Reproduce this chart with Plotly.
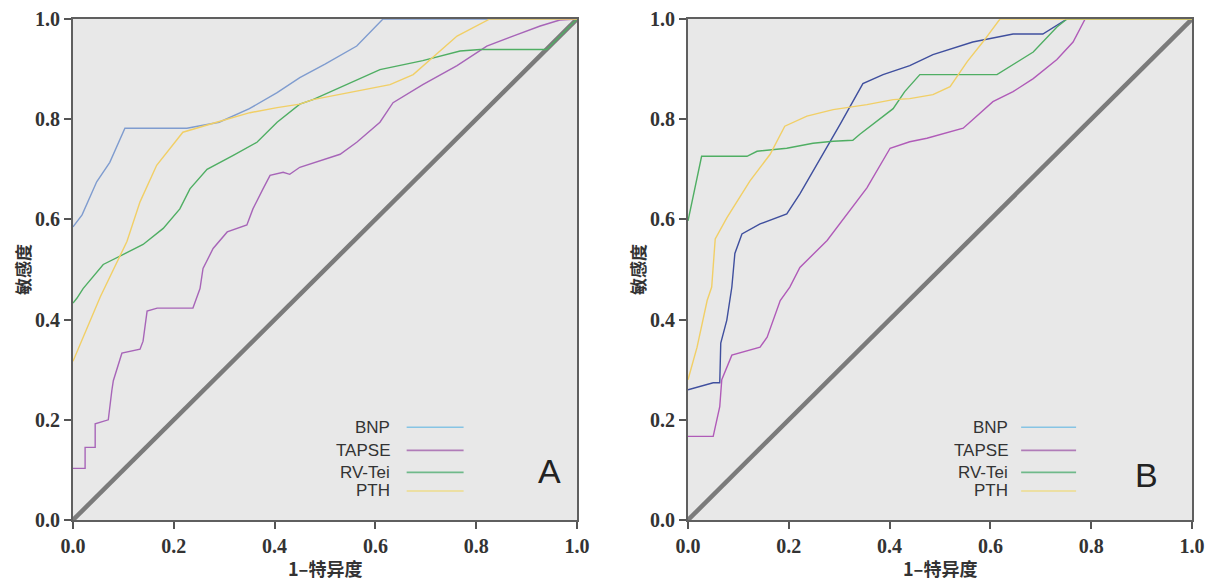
import plotly.graph_objects as go

# ---------------- Data ----------------
# Panel A
A_BNP_x = [0.0, 0.018, 0.047, 0.073, 0.103, 0.226, 0.29, 0.35, 0.405, 0.45, 0.5, 0.563, 0.615, 1.0]
A_BNP_y = [0.585, 0.609, 0.675, 0.714, 0.782, 0.782, 0.794, 0.821, 0.853, 0.883, 0.91, 0.946, 1.0, 1.0]

A_TAPSE_x = [0.0, 0.024, 0.024, 0.044, 0.044, 0.07, 0.077, 0.08, 0.097, 0.133, 0.139, 0.147, 0.167,
             0.238, 0.252, 0.258, 0.278, 0.306, 0.345, 0.357, 0.377, 0.391, 0.417, 0.43, 0.45, 0.53,
             0.563, 0.609, 0.635, 0.694, 0.762, 0.821, 0.873, 0.927, 0.966, 1.0]
A_TAPSE_y = [0.103, 0.103, 0.145, 0.145, 0.192, 0.2, 0.258, 0.278, 0.333, 0.341, 0.357, 0.417, 0.423,
             0.423, 0.462, 0.502, 0.542, 0.575, 0.589, 0.621, 0.661, 0.688, 0.694, 0.69, 0.704, 0.73,
             0.754, 0.794, 0.833, 0.869, 0.907, 0.946, 0.966, 0.986, 0.998, 1.0]

A_RVTEI_x = [0.0, 0.008, 0.02, 0.06, 0.1, 0.139, 0.179, 0.212, 0.232, 0.266, 0.318, 0.365, 0.405,
             0.45, 0.476, 0.543, 0.609, 0.694, 0.768, 0.808, 0.94, 1.0]
A_RVTEI_y = [0.433, 0.443, 0.462, 0.51, 0.53, 0.55, 0.582, 0.621, 0.661, 0.70, 0.728, 0.754, 0.794,
             0.83, 0.839, 0.869, 0.899, 0.917, 0.936, 0.939, 0.939, 1.0]

A_PTH_x = [0.0, 0.054, 0.107, 0.133, 0.166, 0.218, 0.285, 0.351, 0.405, 0.45, 0.476, 0.629, 0.675,
           0.714, 0.762, 0.827, 1.0]
A_PTH_y = [0.317, 0.445, 0.556, 0.635, 0.708, 0.774, 0.794, 0.813, 0.823, 0.83, 0.839, 0.869, 0.889,
           0.923, 0.966, 1.0, 1.0]

# Panel B
B_BNP_x = [0.0, 0.05, 0.063, 0.065, 0.077, 0.087, 0.093, 0.107, 0.143, 0.196, 0.222, 0.256, 0.302,
           0.347, 0.387, 0.44, 0.486, 0.565, 0.645, 0.704, 0.752, 1.0]
B_BNP_y = [0.26, 0.274, 0.274, 0.353, 0.399, 0.465, 0.532, 0.571, 0.591, 0.611, 0.651, 0.71, 0.79,
           0.871, 0.889, 0.907, 0.929, 0.954, 0.97, 0.97, 1.0, 1.0]

B_TAPSE_x = [0.0, 0.05, 0.063, 0.067, 0.087, 0.143, 0.157, 0.183, 0.202, 0.222, 0.276, 0.315, 0.355,
             0.401, 0.44, 0.474, 0.546, 0.605, 0.645, 0.685, 0.732, 0.764, 0.784, 0.788, 1.0]
B_TAPSE_y = [0.167, 0.167, 0.226, 0.28, 0.329, 0.345, 0.365, 0.438, 0.465, 0.504, 0.558, 0.611, 0.663,
             0.742, 0.755, 0.762, 0.782, 0.835, 0.855, 0.881, 0.919, 0.954, 0.994, 1.0, 1.0]

B_RVTEI_x = [0.0, 0.027, 0.117, 0.137, 0.196, 0.248, 0.288, 0.327, 0.341, 0.375, 0.407, 0.43, 0.46,
             0.613, 0.685, 0.732, 0.752, 1.0]
B_RVTEI_y = [0.597, 0.726, 0.726, 0.736, 0.742, 0.752, 0.756, 0.758, 0.77, 0.796, 0.821, 0.855, 0.889,
             0.889, 0.934, 0.984, 1.0, 1.0]

B_PTH_x = [0.0, 0.018, 0.038, 0.047, 0.054, 0.077, 0.123, 0.163, 0.192, 0.236, 0.288, 0.355, 0.407,
           0.44, 0.486, 0.52, 0.554, 0.585, 0.619, 1.0]
B_PTH_y = [0.28, 0.345, 0.438, 0.465, 0.561, 0.603, 0.677, 0.73, 0.786, 0.806, 0.819, 0.829, 0.839,
           0.841, 0.849, 0.865, 0.915, 0.954, 1.0, 1.0]

DIAG = [0.0, 1.0]

SERIES = ["BNP", "TAPSE", "RV-Tei", "PTH"]
TICKS = [0.0, 0.2, 0.4, 0.6, 0.8, 1.0]
TICK_TEXT = ["0.0", "0.2", "0.4", "0.6", "0.8", "1.0"]
X_TITLE = "1–特异度"
Y_TITLE = "敏感度"
PANEL_LABELS = ["A", "B"]

# ---------------- Styles ----------------
COL_A = {"BNP": "#7f9ccf", "TAPSE": "#a765b8", "RV-Tei": "#4fae63", "PTH": "#f1cf66"}
COL_B = {"BNP": "#3f4f9e", "TAPSE": "#b05bb8", "RV-Tei": "#4fae63", "PTH": "#f1cf66"}
LEG_COL = {"BNP": "#86c4e4", "TAPSE": "#b07cb8", "RV-Tei": "#6fb98a", "PTH": "#eedc8c"}
SERIF = "Times New Roman"
CJK = "Noto Sans CJK SC"

fig = go.Figure()

panels = [
    ("x", "y", COL_A, [(A_BNP_x, A_BNP_y), (A_TAPSE_x, A_TAPSE_y), (A_RVTEI_x, A_RVTEI_y), (A_PTH_x, A_PTH_y)]),
    ("x2", "y2", COL_B, [(B_BNP_x, B_BNP_y), (B_TAPSE_x, B_TAPSE_y), (B_RVTEI_x, B_RVTEI_y), (B_PTH_x, B_PTH_y)]),
]

for xa, ya, cols, data in panels:
    fig.add_trace(go.Scatter(x=DIAG, y=DIAG, mode="lines", xaxis=xa, yaxis=ya,
                             line=dict(color="#7b7b7b", width=4.5), showlegend=False, hoverinfo="skip"))
    for name, (xs, ys) in zip(SERIES, data):
        fig.add_trace(go.Scatter(x=xs, y=ys, mode="lines", name=name, xaxis=xa, yaxis=ya,
                                 line=dict(color=cols[name], width=1.4), showlegend=False))

axis_common = dict(
    range=[0, 1], tickvals=TICKS, ticktext=TICK_TEXT, ticks="outside", ticklen=7, tickwidth=2,
    tickcolor="#555555", showline=True, linecolor="#5f5f5f", linewidth=2, mirror=True,
    showgrid=False, zeroline=False, automargin=False, ticklabeloverflow="allow",
    tickfont=dict(family=SERIF, size=20, color="#333333", weight="bold"),
)

# browser body margin offset (8px) compensated
W, H = 1216, 585
OFF = 8
domA = [(73 - OFF) / W, (577 - OFF) / W]
domB = [(688 - OFF) / W, (1192 - OFF) / W]
T = 11
B = H - (520 - OFF)

fig.update_layout(
    width=W, height=H,
    margin=dict(l=0, r=0, t=T, b=B, autoexpand=False),
    paper_bgcolor="white", plot_bgcolor="#e8e8e8",
    font=dict(family=SERIF),
    xaxis=dict(domain=domA, anchor="y", **axis_common),
    yaxis=dict(domain=[0, 1], anchor="x", **axis_common),
    xaxis2=dict(domain=domB, anchor="y2", **axis_common),
    yaxis2=dict(domain=[0, 1], anchor="x2", **axis_common),
    showlegend=False,
)

annotations = []
shapes = []
leg_y = [0.185, 0.139, 0.095, 0.058]
for (xa, ya), lab_x, line_x0, line_x1 in [
    (("x", "y"), 0.633, 0.662, 0.775),
    (("x2", "y2"), 0.639, 0.661, 0.77),
]:
    for name, ly in zip(SERIES, leg_y):
        annotations.append(dict(x=lab_x, y=ly, xref=xa, yref=ya, text=name, showarrow=False,
                                xanchor="right", yanchor="middle",
                                font=dict(family="Liberation Sans", size=17, color="#333333")))
        shapes.append(dict(type="line", xref=xa, yref=ya, x0=line_x0, x1=line_x1, y0=ly, y1=ly,
                           line=dict(color=LEG_COL[name], width=1.6)))
    # axis titles
    annotations.append(dict(x=0.5, y=-0.095, xref=xa + " domain", yref=ya + " domain", text=X_TITLE,
                            showarrow=False, xanchor="center", yanchor="middle",
                            font=dict(family=CJK, size=18, color="#333333", weight="bold")))
    annotations.append(dict(x=-0.1, y=0.5, xref=xa + " domain", yref=ya + " domain", text=Y_TITLE,
                            showarrow=False, textangle=-90, xanchor="center", yanchor="middle",
                            font=dict(family=CJK, size=17, color="#333333", weight="bold")))

annotations.append(dict(x=(549 - OFF) / W, y=1 - (560 - OFF) / H, xref="paper", yref="paper",
                        text=PANEL_LABELS[0], showarrow=False,
                        font=dict(family="Liberation Sans", size=34, color="#222222")))
annotations.append(dict(x=(1160 - OFF) / W, y=1 - (565 - OFF) / H, xref="paper", yref="paper",
                        text=PANEL_LABELS[1], showarrow=False,
                        font=dict(family="Liberation Sans", size=34, color="#222222")))

fig.update_layout(annotations=annotations, shapes=shapes)

fig.write_html("out.html")
